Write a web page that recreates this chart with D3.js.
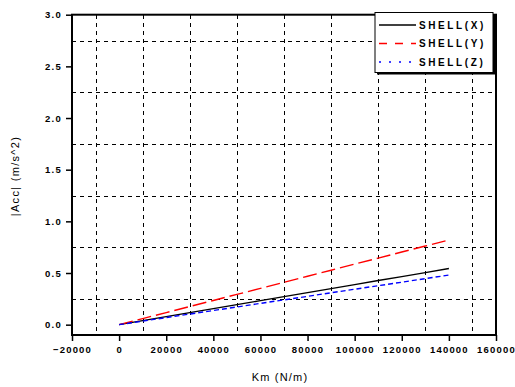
<!DOCTYPE html>
<html>
<head>
<meta charset="utf-8">
<script src="https://cdn.jsdelivr.net/npm/d3@7"></script>
<style>
  html, body { margin: 0; padding: 0; background: #fff; }
  svg { display: block; }
  text { font-family: "Liberation Sans", Arial, sans-serif; fill: #000; }
</style>
</head>
<body>
<svg id="chart" width="515" height="387"></svg>
<script>
// Stiffness Km (N/m)
const km = [0, 10000, 20000, 30000, 40000, 50000, 60000, 70000, 80000, 90000, 100000, 110000, 120000, 130000, 140000];
// |Acc| (m/s^2) per direction
const shellX = [0, 0.039, 0.078, 0.116, 0.155, 0.194, 0.233, 0.271, 0.310, 0.349, 0.388, 0.427, 0.465, 0.504, 0.543];
const shellY = [0, 0.059, 0.117, 0.176, 0.234, 0.293, 0.351, 0.410, 0.469, 0.527, 0.586, 0.644, 0.703, 0.761, 0.820];
const shellZ = [0, 0.034, 0.069, 0.103, 0.137, 0.171, 0.206, 0.240, 0.274, 0.309, 0.343, 0.377, 0.411, 0.446, 0.480];

const seriesNames = ["SHELL(X)", "SHELL(Y)", "SHELL(Z)"];
const xTicks = [-20000, 0, 20000, 40000, 60000, 80000, 100000, 120000, 140000, 160000];
const yTicks = [0.0, 0.5, 1.0, 1.5, 2.0, 2.5, 3.0];
const xGrid = [-10000, 10000, 30000, 50000, 70000, 90000, 110000, 130000, 150000];
const yGrid = [0.25, 0.75, 1.25, 1.75, 2.25, 2.75];

const svg = d3.select("#chart");
const plotL = 72, plotR = 496, plotT = 14.7, plotB = 335;

const x = d3.scaleLinear().domain([-20000, 160000]).range([plotL, plotR]);
const y = d3.scaleLinear().domain([-0.1, 3.0]).range([plotB, plotT]);

// dashed grid
const grid = svg.append("g").attr("stroke", "#000").attr("stroke-width", 1)
  .attr("stroke-dasharray", "4,4").attr("shape-rendering", "crispEdges");
grid.selectAll("line.v").data(xGrid).join("line").attr("class", "v")
  .attr("x1", d => Math.round(x(d)) + 0.5).attr("x2", d => Math.round(x(d)) + 0.5)
  .attr("y1", plotT).attr("y2", plotB);
grid.selectAll("line.h").data(yGrid).join("line").attr("class", "h")
  .attr("y1", d => Math.round(y(d)) + 0.5).attr("y2", d => Math.round(y(d)) + 0.5)
  .attr("x1", plotL).attr("x2", plotR);

// series lines
const series = [
  { name: seriesNames[0], values: shellX, color: "#000", dash: null, legendDash: null },
  { name: seriesNames[1], values: shellY, color: "#f00", dash: "14,5", legendDash: "8,8" },
  { name: seriesNames[2], values: shellZ, color: "#00f", dash: "5,3", legendDash: "2,8" }
];
const line = d3.line().x((d, i) => x(km[i])).y(d => y(d));
series.forEach(s => {
  svg.append("path").datum(s.values)
    .attr("d", line)
    .attr("fill", "none")
    .attr("stroke", s.color)
    .attr("stroke-width", 1.4)
    .attr("stroke-dasharray", s.dash);
});

// axes
const xAxis = d3.axisBottom(x).tickValues(xTicks).tickSize(6).tickFormat(d3.format("d"));
const gx = svg.append("g").attr("transform", `translate(0,${plotB})`).call(xAxis);
gx.select(".domain").remove();
gx.selectAll(".tick line").attr("stroke", "#000").attr("stroke-width", 1.5);
gx.selectAll(".tick text").attr("font-size", "9.5px").attr("letter-spacing", "1.2px")
  .attr("font-family", "Liberation Sans").attr("font-weight", "bold").attr("dy", "0.9em");

const yAxis = d3.axisLeft(y).tickValues(yTicks).tickSize(6).tickFormat(d3.format(".1f"));
const gy = svg.append("g").attr("transform", `translate(${plotL},0)`).call(yAxis);
gy.select(".domain").remove();
gy.selectAll(".tick line").attr("stroke", "#000").attr("stroke-width", 1.5);
gy.selectAll(".tick text").attr("font-size", "9.5px").attr("letter-spacing", "1.3px")
  .attr("font-family", "Liberation Sans").attr("font-weight", "bold").attr("x", -10);

// frame
svg.append("rect").attr("x", plotL).attr("y", plotT)
  .attr("width", plotR - plotL).attr("height", plotB - plotT)
  .attr("fill", "none").attr("stroke", "#000").attr("stroke-width", 2);

// axis titles
svg.append("text").attr("x", 280).attr("y", 381).attr("text-anchor", "middle")
  .attr("font-size", "11px").attr("letter-spacing", "1.2px").text("Km  (N/m)");
svg.append("text").attr("transform", "translate(19,176) rotate(-90)")
  .attr("text-anchor", "middle").attr("font-size", "11px").attr("letter-spacing", "1.3px")
  .text("|Acc| (m/s^2)");

// legend
const lg = svg.append("g");
lg.append("rect").attr("x", 377).attr("y", 14.5).attr("width", 118).attr("height", 60)
  .attr("fill", "#000");
lg.append("rect").attr("x", 375).attr("y", 12.5).attr("width", 118).attr("height", 60)
  .attr("fill", "#fff").attr("stroke", "#000").attr("stroke-width", 1);
series.forEach((s, i) => {
  const yy = 25 + i * 18.5;
  lg.append("line").attr("x1", 379).attr("x2", 416).attr("y1", yy).attr("y2", yy)
    .attr("stroke", s.color).attr("stroke-width", 1.3).attr("stroke-dasharray", s.legendDash);
  lg.append("text").attr("x", 419).attr("y", yy).attr("dy", "0.35em")
    .attr("font-size", "10px").attr("font-weight", "bold").attr("letter-spacing", "2.6px")
    .text(s.name);
});
</script>
</body>
</html>
